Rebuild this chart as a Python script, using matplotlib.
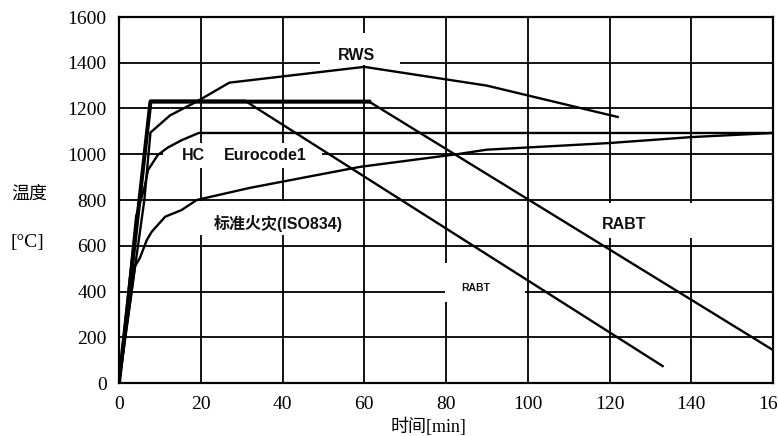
import matplotlib
matplotlib.use('Agg')
import matplotlib.pyplot as plt
from matplotlib.patches import Rectangle

# ---- data ----
x_ticks = [0, 20, 40, 60, 80, 100, 120, 140, 160]
y_ticks = [0, 200, 400, 600, 800, 1000, 1200, 1400, 1600]

iso_t = [0, 3.9, 5.1, 6.8, 8, 11.3, 15.3, 19, 32, 59, 83, 90, 120, 140, 160]
iso_T = [0, 510, 546, 625, 661, 727, 756, 800, 853, 945, 1001, 1020, 1049, 1075, 1093]

hc_t = [0, 4.2, 6.3, 7.1, 9.5, 12, 15.4, 19.5, 160]
hc_T = [0, 730, 860, 931, 997, 1030, 1062, 1093, 1093]

rws_t = [0, 6.2, 7.7, 12.5, 19, 27, 60, 90, 122]
rws_T = [0, 800, 1095, 1170, 1230, 1313, 1382, 1300, 1163]

rabt_long_t = [0, 7.7, 61.2, 160]
rabt_long_T = [0, 1230, 1230, 144]

rabt_short_t = [0, 7.7, 30.8, 133]
rabt_short_T = [0, 1234, 1234, 74]

# labels: (text, t, T, fontsize)
labels = [
    ("RWS", 58.0, 1432, 11.5),
    ("HC", 18.1, 994, 11.5),
    ("Eurocode1", 35.7, 994, 11.5),
    ("RABT", 123.5, 691, 11.5),
    ("RABT", 87.3, 415, 7.5),
]

# white boxes behind labels (t0, t1, T0, T1)
boxes = [
    (49.2, 68.7, 1388, 1530),
    (10.8, 49.7, 940, 1049),
    (19.1, 59.4, 647, 796),
    (79.8, 99.4, 354, 525),
    (112.0, 142.1, 634, 785),
]

fig = plt.figure(figsize=(7.78, 4.36), dpi=100)
ax = fig.add_axes([119/778, 1-383/436, 654/778, 366/436])

ax.set_xlim(0, 160)
ax.set_ylim(0, 1600)
ax.set_xticks(x_ticks)
ax.set_yticks(y_ticks)
ax.set_xticklabels([str(v) for v in x_ticks], fontfamily='Liberation Serif', fontsize=14)
ax.set_yticklabels([str(v) for v in y_ticks], fontfamily='Liberation Serif', fontsize=14)
ax.tick_params(length=0, pad=9)
ax.set_axisbelow(True)
ax.grid(True, color='black', linewidth=1.3)
for s in ax.spines.values():
    s.set_linewidth(1.6)
    s.set_color('black')
    s.set_zorder(5)

for (t0, t1, T0, T1) in boxes:
    ax.add_patch(Rectangle((t0, T0), t1 - t0, T1 - T0, facecolor='white',
                           edgecolor='none', zorder=1))

lw = 1.7
ax.plot(iso_t, iso_T, color='black', lw=lw, zorder=3)
ax.plot(hc_t, hc_T, color='black', lw=lw, zorder=3)
ax.plot(rws_t, rws_T, color='black', lw=lw, zorder=3)
# long RABT: doubled (thick) plateau, normal descent
ax.plot(rabt_long_t[:3], rabt_long_T[:3], color='black', lw=2.9, zorder=3)
ax.plot(rabt_long_t[2:], rabt_long_T[2:], color='black', lw=lw, zorder=3)
ax.plot(rabt_short_t, rabt_short_T, color='black', lw=lw, zorder=3)

for txt, t, T, fs in labels:
    ax.text(t, T, txt, ha='center', va='center', fontsize=fs, fontweight='bold',
            fontfamily='Liberation Sans', color='#111111', zorder=4)

ax.text(38.9, 699, "标准火灾(ISO834)", ha='center', va='center', fontsize=11.5,
        fontweight='bold', family=['Liberation Sans', 'Noto Sans CJK SC'],
        color='#111111', zorder=4)

fig.text(29/778, 1-194/436, "温度", ha='center', va='center', fontsize=13,
         family=['Liberation Serif', 'Noto Sans CJK SC'])
fig.text(27/778, 1-242/436, "[°C]", ha='center', va='center', fontsize=14,
         family=['Liberation Serif', 'Noto Sans CJK SC'])
fig.text(428/778, 1-427/436, "时间[min]", ha='center', va='center', fontsize=13,
         family=['Liberation Serif', 'Noto Sans CJK SC'])

fig.savefig('out.png', dpi=100)
